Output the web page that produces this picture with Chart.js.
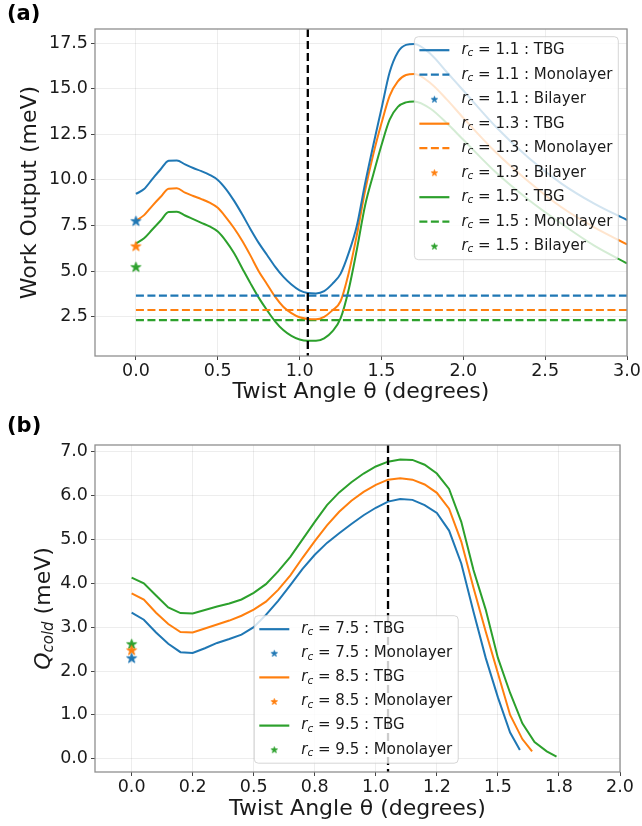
<!DOCTYPE html>
<html>
<head>
<meta charset="utf-8">
<script src="https://cdn.jsdelivr.net/npm/chart.js@4.4.1/dist/chart.umd.min.js"></script>
<style>
  html, body { margin: 0; padding: 0; background: #fff; }
  #wrap { position: relative; width: 642px; height: 826px; }
  #wrap canvas { position: absolute; left: 0; }
  #chartA { top: 0; }
  #chartB { top: 405px; }
</style>
</head>
<body>
<div id="wrap">
  <canvas id="chartA" width="642" height="405" style="width:642px;height:405px"></canvas>
  <canvas id="chartB" width="642" height="421" style="width:642px;height:421px"></canvas>
</div>
<script>
// ---- panel (a): work output vs twist angle ----
const thetaA = [0, 0.05, 0.1, 0.15, 0.2, 0.25, 0.3, 0.35, 0.4, 0.45, 0.5, 0.55, 0.6, 0.65, 0.7, 0.75,
  0.8, 0.85, 0.9, 0.95, 1.0, 1.05, 1.1, 1.15, 1.2, 1.25, 1.3, 1.35, 1.4, 1.45, 1.5, 1.55, 1.6, 1.65,
  1.7, 1.8, 1.9, 2.0, 2.2, 2.4, 2.6, 2.8, 3.0];
const tbgA11 = [9.23, 9.5, 10.04, 10.57, 11.05, 11.07, 10.85, 10.65, 10.48, 10.28, 10.0, 9.5, 8.85, 8.1,
  7.3, 6.55, 5.9, 5.25, 4.7, 4.27, 3.95, 3.8, 3.78, 3.9, 4.3, 4.85, 6.0, 7.5, 9.8, 11.9, 13.9, 15.9,
  17.0, 17.4, 17.45, 16.9, 15.9, 14.9, 12.9, 11.2, 9.8, 8.7, 7.8];
const tbgA13 = [7.76, 8.07, 8.58, 9.06, 9.52, 9.54, 9.3, 9.12, 8.95, 8.75, 8.47, 7.95, 7.35, 6.65,
  5.85, 5.0, 4.3, 3.6, 3.05, 2.7, 2.47, 2.38, 2.36, 2.5, 2.85, 3.35, 4.9, 7.0, 9.4, 11.4, 13.1, 14.6,
  15.4, 15.75, 15.8, 15.3, 14.4, 13.4, 11.5, 9.9, 8.5, 7.4, 6.47];
const tbgA15 = [6.52, 6.8, 7.28, 7.76, 8.24, 8.26, 8.05, 7.85, 7.65, 7.45, 7.17, 6.65, 5.98, 5.15,
  4.33, 3.55, 2.87, 2.25, 1.77, 1.45, 1.25, 1.18, 1.18, 1.32, 1.7, 2.41, 4.0, 6.2, 8.6, 10.3, 11.9,
  13.3, 14.0, 14.25, 14.3, 13.9, 13.1, 12.2, 10.4, 8.9, 7.6, 6.4, 5.43];
const rcA = ['1.1', '1.3', '1.5'];
const monolayerA = [3.66, 2.87, 2.32];
const monolayerSpanA = [0, 5];
const bilayerA = [7.76, 6.38, 5.24];
const xTicksA = [0, 0.5, 1.0, 1.5, 2.0, 2.5, 3.0];
const yTicksA = [2.5, 5.0, 7.5, 10.0, 12.5, 15.0, 17.5];

// ---- panel (b): Q_cold vs twist angle ----
const thetaB = [0, 0.05, 0.1, 0.15, 0.2, 0.25, 0.3, 0.35, 0.4, 0.45, 0.5, 0.55, 0.6, 0.65, 0.7, 0.75,
  0.8, 0.85, 0.9, 0.95, 1.0, 1.05, 1.1, 1.15, 1.2, 1.25, 1.3, 1.35, 1.4, 1.45, 1.5, 1.55, 1.6, 1.65, 1.7];
const thetaEndB = [1.59, 1.64, 1.74];   // last sample of each curve
const qcB75 = [3.33, 3.17, 2.88, 2.62, 2.43, 2.41, 2.52, 2.64, 2.73, 2.83, 3.0, 3.28, 3.6, 3.96, 4.33,
  4.65, 4.92, 5.14, 5.35, 5.55, 5.72, 5.86, 5.92, 5.9, 5.78, 5.6, 5.2, 4.45, 3.35, 2.3, 1.4, 0.6, 0.2];
const qcB85 = [3.77, 3.63, 3.33, 3.07, 2.89, 2.88, 2.97, 3.06, 3.15, 3.26, 3.4, 3.58, 3.85, 4.18, 4.58,
  4.96, 5.32, 5.63, 5.88, 6.08, 6.24, 6.36, 6.39, 6.36, 6.25, 6.06, 5.7, 4.95, 3.9, 2.9, 1.95, 1.0, 0.45, 0.17];
const qcB95 = [4.13, 4.0, 3.72, 3.45, 3.32, 3.31, 3.39, 3.47, 3.54, 3.63, 3.78, 3.98, 4.27, 4.6, 5.0,
  5.4, 5.78, 6.07, 6.3, 6.5, 6.66, 6.77, 6.82, 6.81, 6.7, 6.5, 6.15, 5.4, 4.3, 3.4, 2.3, 1.5, 0.81,
  0.38, 0.17, 0.05];
const rcB = ['7.5', '8.5', '9.5'];
const monolayerB = [2.3, 2.48, 2.62];
const xTicksB = [0, 0.25, 0.5, 0.75, 1.0, 1.25, 1.5, 1.75, 2.0];
const xTickLabelsB = ['0.0', '0.2', '0.5', '0.8', '1.0', '1.2', '1.5', '1.8', '2.0'];
const yTicksB = [0, 1, 2, 3, 4, 5, 6, 7];

const magicAngle = 1.05;

const COLORS = ['#1f77b4', '#ff7f0e', '#2ca02c'];
const FONT = "'DejaVu Sans', sans-serif";
const TEXT = '#1a1a1a';
const GRID = 'rgba(0,0,0,0.07)';

// filled five point star, like matplotlib's '*' marker
function starImage(color, r) {
  const s = Math.ceil(r * 2 + 4);
  const c = document.createElement('canvas');
  c.width = c.height = s;
  const g = c.getContext('2d');
  g.translate(s / 2, s / 2 + r * 0.1);
  g.beginPath();
  for (let i = 0; i < 10; i++) {
    const rad = i % 2 ? r * 0.382 : r;
    const ang = -Math.PI / 2 + i * Math.PI / 5;
    g.lineTo(rad * Math.cos(ang), rad * Math.sin(ang));
  }
  g.closePath();
  g.fillStyle = color;
  g.fill();
  g.lineJoin = 'round';
  g.lineWidth = 1;
  g.strokeStyle = color;
  g.stroke();
  return c;
}

// text pieces: [text, size, italic, shift]
function partsWidth(ctx, parts) {
  let w = 0;
  parts.forEach(p => {
    ctx.font = `${p[2] ? 'italic ' : ''}${p[1]}px ${FONT}`;
    w += ctx.measureText(p[0]).width;
  });
  return w;
}
function drawParts(ctx, parts, x, y) {
  ctx.textBaseline = 'middle';
  ctx.textAlign = 'left';
  ctx.fillStyle = TEXT;
  parts.forEach(p => {
    ctx.font = `${p[2] ? 'italic ' : ''}${p[1]}px ${FONT}`;
    ctx.fillText(p[0], x, y + p[3]);
    x += ctx.measureText(p[0]).width;
  });
}
const rcParts = (rc, kind) => [['r', 15, true, 0], ['c', 10.5, true, 3.5], [' = ' + rc + ' : ' + kind, 15, false, 0]];

function drawLegend(ctx, a, L) {
  const widths = L.items.map(it => partsWidth(ctx, rcParts(it.rc, it.kind)));
  const w = 47 + Math.max(...widths) + 6;
  const h = 27 + (L.items.length - 1) * L.rowH;
  const left = L.anchor === 'right' ? a.right - L.dx - w : a.left + L.dx;
  const top = a.top + L.dy;
  ctx.save();
  ctx.beginPath();
  ctx.roundRect(left, top, w, h, 4);
  ctx.fillStyle = 'rgba(255,255,255,0.8)';
  ctx.fill();
  ctx.strokeStyle = 'rgba(204,204,204,0.8)';
  ctx.lineWidth = 1;
  ctx.stroke();
  L.items.forEach((it, i) => {
    const y = top + 13.5 + i * L.rowH;
    if (it.type === 'star') {
      const img = starImage(it.color, 3.2);
      ctx.drawImage(img, left + 20 - img.width / 2, y - img.height / 2);
    } else {
      ctx.beginPath();
      ctx.setLineDash(it.type === 'dash' ? [8, 3.5] : []);
      ctx.strokeStyle = it.color;
      ctx.lineWidth = 2.2;
      ctx.moveTo(left + 5, y);
      ctx.lineTo(left + 35, y);
      ctx.stroke();
      ctx.setLineDash([]);
    }
    drawParts(ctx, rcParts(it.rc, it.kind), left + 47, y);
  });
  ctx.restore();
}

const decor = {
  id: 'decor',
  afterDatasetsDraw(chart, args, o) {
    const {ctx, chartArea: a} = chart;
    const px = chart.scales.x.getPixelForValue(o.vline);
    ctx.save();
    ctx.strokeStyle = '#000';
    ctx.lineWidth = 2.3;
    ctx.setLineDash([8, 4]);
    ctx.beginPath();
    ctx.moveTo(px, a.top);
    ctx.lineTo(px, a.bottom);
    ctx.stroke();
    ctx.restore();
  },
  afterDraw(chart, args, o) {
    const {ctx, chartArea: a} = chart;
    ctx.save();
    ctx.strokeStyle = '#8f8f8f';
    ctx.lineWidth = 1.3;
    ctx.strokeRect(a.left, a.top, a.right - a.left, a.bottom - a.top);
    ctx.restore();

    drawLegend(ctx, a, o.legend);

    // rotated y title
    ctx.save();
    ctx.translate(o.yTitleX, (a.top + a.bottom) / 2);
    ctx.rotate(-Math.PI / 2);
    drawParts(ctx, o.yTitle, -partsWidth(ctx, o.yTitle) / 2, 0);
    ctx.restore();

    // panel letter
    ctx.save();
    ctx.font = `bold 21px ${FONT}`;
    ctx.fillStyle = '#000';
    ctx.textBaseline = 'alphabetic';
    ctx.fillText(o.letter, 7, o.letterY);
    ctx.restore();
  }
};

function curveSet(xs, ys, color, smooth) {
  return {
    data: ys.map((v, i) => ({x: xs[i], y: v})),
    showLine: true, borderColor: color, backgroundColor: color, borderWidth: 2,
    pointRadius: 0, tension: 0, cubicInterpolationMode: smooth ? 'monotone' : 'default',
    order: 2
  };
}
function flatSet(span, y, color) {
  return {
    data: span.map(x => ({x, y})),
    showLine: true, borderColor: color, borderWidth: 2.2, borderDash: [8, 3.5],
    pointRadius: 0, order: 2
  };
}
function starSet(y, color) {
  return {
    data: [{x: 0, y}], showLine: false, pointStyle: starImage(color, 5.2),
    pointRadius: 6, order: 0
  };
}

function axisOpts(min, max, tickVals, extra) {
  return Object.assign({
    type: 'linear', min, max, bounds: 'data',
    afterBuildTicks: s => { s.ticks = tickVals.map(v => ({value: v})); },
    ticks: {
      callback: v => v.toFixed(1), font: {family: FONT, size: 17.5}, color: TEXT,
      autoSkip: false, maxRotation: 0
    },
    grid: {color: GRID, lineWidth: 1, tickColor: '#444', tickLength: 4},
    border: {display: false}
  }, extra);
}

// ---------- chart (a) ----------
const tbgA = [tbgA11, tbgA13, tbgA15];
const setsA = [];
const legendA = [];
rcA.forEach((rc, i) => {
  setsA.push(curveSet(thetaA, tbgA[i], COLORS[i], true));
  setsA.push(flatSet(monolayerSpanA, monolayerA[i], COLORS[i]));
  setsA.push(starSet(bilayerA[i], COLORS[i]));
  legendA.push({type: 'line', color: COLORS[i], rc, kind: 'TBG'},
               {type: 'dash', color: COLORS[i], rc, kind: 'Monolayer'},
               {type: 'star', color: COLORS[i], rc, kind: 'Bilayer'});
});

const xA = axisOpts(-0.25, 3.0, xTicksA, {
  title: {display: true, text: 'Twist Angle θ (degrees)', font: {family: FONT, size: 22}, color: TEXT, padding: 0},
  afterFit: s => { s.height = 49; }
});
xA.ticks.padding = 0.5;
const yA = axisOpts(0.35, 18.27, yTicksA, {afterFit: s => { s.width = 95; }});
yA.ticks.padding = 3;

new Chart(document.getElementById('chartA'), {
  type: 'scatter',
  data: {datasets: setsA},
  options: {
    responsive: false, animation: false, events: [],
    layout: {padding: {left: 0, right: 15, top: 29, bottom: 0}},
    scales: {x: xA, y: yA},
    plugins: {
      legend: {display: false}, tooltip: {enabled: false},
      decor: {
        vline: magicAngle, letter: '(a)', letterY: 20, yTitleX: 30,
        yTitle: [['Work Output (meV)', 22, false, 0]],
        legend: {items: legendA, anchor: 'right', dx: 8.7, dy: 7.7, rowH: 24.5}
      }
    }
  },
  plugins: [decor]
});

// ---------- chart (b) ----------
const qcB = [qcB75, qcB85, qcB95];
const setsB = [];
const legendB = [];
rcB.forEach((rc, i) => {
  const xs = thetaB.slice(0, qcB[i].length - 1).concat([thetaEndB[i]]);
  setsB.push(curveSet(xs, qcB[i], COLORS[i], false));
  setsB.push(starSet(monolayerB[i], COLORS[i]));
  legendB.push({type: 'line', color: COLORS[i], rc, kind: 'TBG'},
               {type: 'star', color: COLORS[i], rc, kind: 'Monolayer'});
});

const xB = axisOpts(-0.15, 2.0, xTicksB, {
  title: {display: true, text: 'Twist Angle θ (degrees)', font: {family: FONT, size: 22}, color: TEXT, padding: 0},
  afterFit: s => { s.height = 50; }
});
xB.ticks.padding = 0.5;
xB.ticks.callback = (v, i) => xTickLabelsB[i];
const yB = axisOpts(-0.3, 7.15, yTicksB, {afterFit: s => { s.width = 95; }});
yB.ticks.padding = 3;

new Chart(document.getElementById('chartB'), {
  type: 'scatter',
  data: {datasets: setsB},
  options: {
    responsive: false, animation: false, events: [],
    layout: {padding: {left: 0, right: 22, top: 40, bottom: 4}},
    scales: {x: xB, y: yB},
    plugins: {
      legend: {display: false}, tooltip: {enabled: false},
      decor: {
        vline: magicAngle, letter: '(b)', letterY: 27, yTitleX: 44,
        yTitle: [['Q', 22, true, 0], ['cold', 15, true, 5], [' (meV)', 22, false, 0]],
        legend: {items: legendB, anchor: 'left', dx: 159.3, dy: 170.7, rowH: 24.1}
      }
    }
  },
  plugins: [decor]
});
</script>
</body>
</html>
